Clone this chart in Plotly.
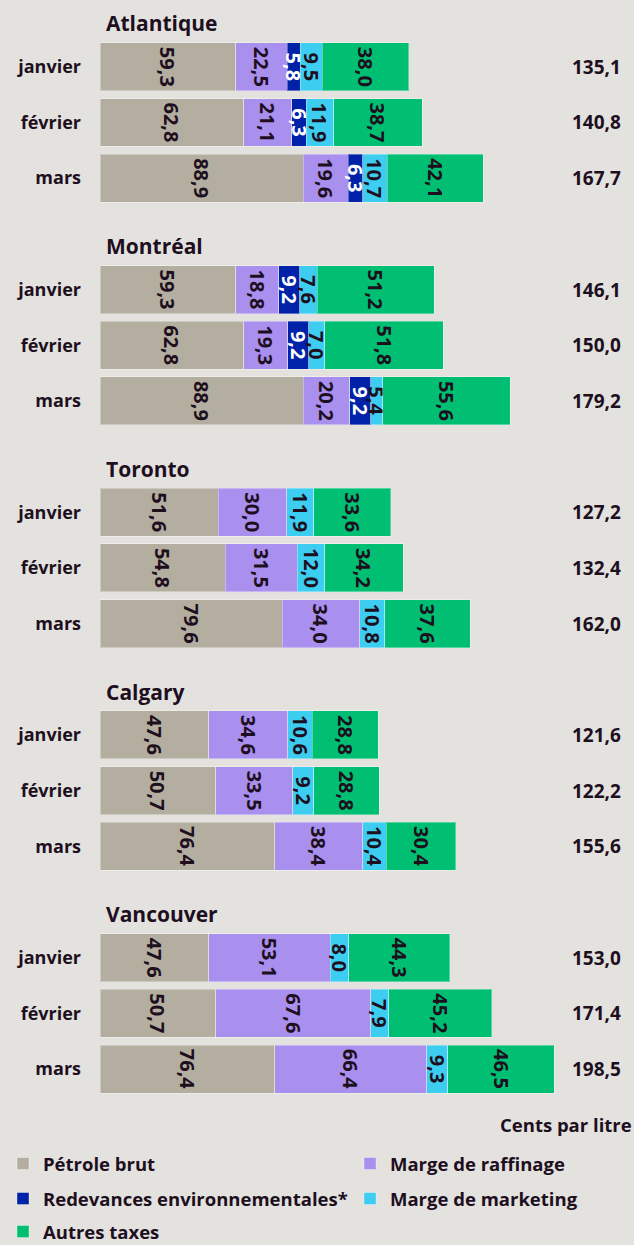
import plotly.graph_objects as go

cities = ["Atlantique", "Montréal", "Toronto", "Calgary", "Vancouver"]
months = ["janvier", "février", "mars"]

series_names = ["Pétrole brut", "Marge de raffinage", "Redevances environnementales*",
                "Marge de marketing", "Autres taxes"]
colors = ["#b3ae9f", "#a98fee", "#0022a8", "#3ccdf0", "#00bf73"]
text_colors = ["#1e0f1e", "#1e0f1e", "#ffffff", "#1e0f1e", "#1e0f1e"]

# values per city, per month (janvier, février, mars)
petrole = [59.3, 62.8, 88.9, 59.3, 62.8, 88.9, 51.6, 54.8, 79.6, 47.6, 50.7, 76.4, 47.6, 50.7, 76.4]
raffinage = [22.5, 21.1, 19.6, 18.8, 19.3, 20.2, 30.0, 31.5, 34.0, 34.6, 33.5, 38.4, 53.1, 67.6, 66.4]
redevances = [5.8, 6.3, 6.3, 9.2, 9.2, 9.2, None, None, None, None, None, None, None, None, None]
marketing = [9.5, 11.9, 10.7, 7.6, 7.0, 5.4, 11.9, 12.0, 10.8, 10.6, 9.2, 10.4, 8.0, 7.9, 9.3]
autres = [38.0, 38.7, 42.1, 51.2, 51.8, 55.6, 33.6, 34.2, 37.6, 28.8, 28.8, 30.4, 44.3, 45.2, 46.5]
totals = ["135,1", "140,8", "167,7", "146,1", "150,0", "179,2", "127,2", "132,4", "162,0",
          "121,6", "122,2", "155,6", "153,0", "171,4", "198,5"]

series = [petrole, raffinage, redevances, marketing, autres]

BG = "#e3e2de"
DARK = "#1e0f1e"
FONT = "Open Sans"

W, H = 634, 1245
PLOT_H = 1100
LEFT = 100
PX_PER_UNIT = 2.287

# legend placement (pixels): column x, row y
legend_ids = ["legend", "legend2", "legend3", "legend4", "legend5"]
legend_pos = [(3, 1164), (350, 1164), (3, 1199), (350, 1199), (3, 1232)]

# y positions: 4 slots per city (heading + 3 months)
ypos = [g * 4 + m + 1 for g in range(len(cities)) for m in range(len(months))]
ylab = [months[m] for g in range(len(cities)) for m in range(len(months))]

def fmt(v):
    return "" if v is None else f"{v:.1f}".replace(".", ",")

fig = go.Figure()
for name, vals, col, tcol, lg in zip(series_names, series, colors, text_colors, legend_ids):
    fig.add_trace(go.Bar(
        x=vals, y=ypos, orientation="h", name=name, legend=lg,
        marker=dict(color=col, line=dict(color="rgba(255,255,255,0.35)", width=1)),
        width=0.862,
        text=[fmt(v) for v in vals], textposition="inside", insidetextanchor="middle",
        textangle=90, constraintext="none",
        textfont=dict(color=tcol, size=20, family=FONT, weight="bold"),
        hoverinfo="skip", cliponaxis=False,
    ))

annotations = []
for g, c in enumerate(cities):
    annotations.append(dict(x=0, y=g * 4 + 0.22, xref="x", yref="y", text=f"<b>{c}</b>",
                            showarrow=False, xanchor="left", yanchor="middle", xshift=4,
                            font=dict(size=21, color=DARK, family=FONT)))
for y, t in zip(ypos, totals):
    annotations.append(dict(x=(596 - LEFT) / (W - LEFT), y=y, xref="paper", yref="y",
                            text=f"<b>{t}</b>", showarrow=False, xanchor="center",
                            yanchor="middle", font=dict(size=19, color=DARK, family=FONT)))
annotations.append(dict(x=1, y=(PLOT_H - 1124) / PLOT_H, xref="paper", yref="paper",
                        text="<b>Cents par litre</b>", showarrow=False, xanchor="right",
                        yanchor="middle", xshift=0,
                        font=dict(size=18.5, color=DARK, family=FONT)))

def leg(xpix, ypix):
    return dict(orientation="h", x=xpix / W, xref="container", y=1 - ypix / H, yref="container",
                yanchor="middle", xanchor="left", itemwidth=30,
                font=dict(size=18.5, color=DARK, family=FONT, weight="bold"),
                bgcolor="rgba(0,0,0,0)", borderwidth=0)

legends = {lid: leg(px, py) for lid, (px, py) in zip(legend_ids, legend_pos)}

fig.update_layout(
    width=W, height=H, barmode="stack",
    paper_bgcolor=BG, plot_bgcolor=BG,
    margin=dict(l=LEFT, r=0, t=0, b=H - PLOT_H, autoexpand=False),
    font=dict(family=FONT, color=DARK),
    xaxis=dict(range=[0, (W - LEFT) / PX_PER_UNIT], visible=False, fixedrange=True),
    yaxis=dict(range=[19.556, -0.2], tickvals=ypos, ticktext=[f"<b>{t}</b>" for t in ylab],
               tickfont=dict(size=18, color=DARK, family=FONT), showgrid=False,
               zeroline=False, showline=False, ticks="", ticklabelstandoff=18,
               fixedrange=True),
    showlegend=True,
    annotations=annotations,
    **legends,
)
fig.write_html("out.html", post_script="document.body.style.margin='0';",
               config={"displayModeBar": False})
